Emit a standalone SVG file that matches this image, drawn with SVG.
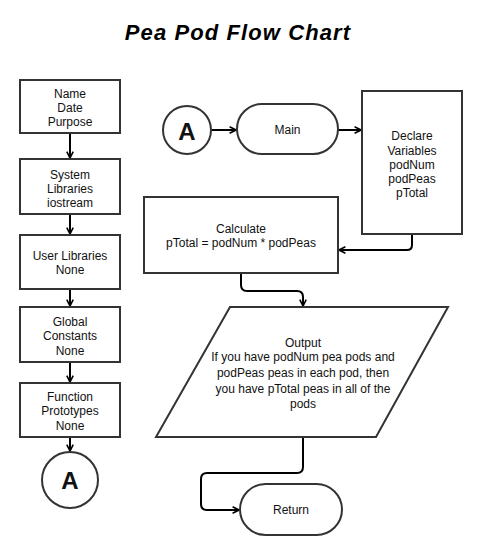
<svg xmlns="http://www.w3.org/2000/svg" width="488" height="554" viewBox="0 0 488 554">
<style>
.n{fill:#fff;stroke:#333;stroke-width:2}
.t{font-family:"Liberation Sans",Arial,sans-serif;font-size:12px;fill:#111;text-anchor:middle}
.big{font-family:"Liberation Sans",Arial,sans-serif;font-size:24px;font-weight:bold;fill:#111;text-anchor:middle}
.c{fill:none;stroke:#000;stroke-width:2;stroke-linejoin:round}
</style>
<defs>
<marker id="ah" viewBox="0 0 10 10" refX="9" refY="5" markerWidth="8" markerHeight="8" markerUnits="userSpaceOnUse" orient="auto">
<path d="M1,1 L9,5 L1,9" fill="none" stroke="#000" stroke-width="2" stroke-linejoin="miter"/>
</marker>
</defs>
<rect width="488" height="554" fill="#fff"/>
<text x="238" y="40" font-family="Liberation Sans,Arial,sans-serif" font-size="22" font-weight="bold" font-style="italic" letter-spacing="1.1" text-anchor="middle" fill="#000">Pea Pod Flow Chart</text>

<g id="connectors">
<path class="c" d="M70,133 V158" marker-end="url(#ah)"/>
<path class="c" d="M70,214 V234" marker-end="url(#ah)"/>
<path class="c" d="M70,289 V306" marker-end="url(#ah)"/>
<path class="c" d="M70,362 V382" marker-end="url(#ah)"/>
<path class="c" d="M70,437 V451" marker-end="url(#ah)"/>
<path class="c" d="M211,130 H236" marker-end="url(#ah)"/>
<path class="c" d="M338,130 H361" marker-end="url(#ah)"/>
<path class="c" d="M412,234 V245 Q412,250 407,250 H339" marker-end="url(#ah)"/>
<path class="c" d="M241,273 V285 Q241,291 247,291 H297 Q303,291 303,297 V306" marker-end="url(#ah)"/>
<path class="c" d="M303,437 V467 Q303,473 297,473 H207 Q201,473 201,479 V504 Q201,510 207,510 H239" marker-end="url(#ah)"/>
</g>

<g id="n-name"><rect class="n" x="20" y="80" width="100" height="53"/>
<text class="t" x="70" y="97.5">Name</text><text class="t" x="70" y="112">Date</text><text class="t" x="70" y="126">Purpose</text></g>
<g id="n-syslib"><rect class="n" x="20" y="159" width="100" height="55"/>
<text class="t" x="70" y="178.5">System</text><text class="t" x="70" y="192.5">Libraries</text><text class="t" x="70" y="206.5">iostream</text></g>
<g id="n-userlib"><rect class="n" x="20" y="235" width="100" height="54"/>
<text class="t" x="70" y="259.5">User Libraries</text><text class="t" x="70" y="273.5">None</text></g>
<g id="n-global"><rect class="n" x="20" y="307" width="100" height="55"/>
<text class="t" x="70" y="326">Global</text><text class="t" x="70" y="340">Constants</text><text class="t" x="70" y="354.5">None</text></g>
<g id="n-proto"><rect class="n" x="20" y="383" width="100" height="54"/>
<text class="t" x="70" y="401">Function</text><text class="t" x="70" y="415">Prototypes</text><text class="t" x="70" y="429.5">None</text></g>
<g id="n-a1"><circle class="n" cx="70" cy="480" r="28"/>
<text class="big" x="70" y="489">A</text></g>

<g id="n-a2"><circle class="n" cx="187" cy="130" r="24"/>
<text class="big" x="187" y="139.5">A</text></g>
<g id="n-main"><rect class="n" x="237" y="104" width="101" height="50" rx="25"/>
<text class="t" x="287.5" y="134">Main</text></g>
<g id="n-declare"><rect class="n" x="362" y="91" width="100" height="143"/>
<text class="t" x="412" y="140">Declare</text><text class="t" x="412" y="154.5">Variables</text><text class="t" x="412" y="168.5">podNum</text><text class="t" x="412" y="182.5">podPeas</text><text class="t" x="412" y="196.5">pTotal</text></g>
<g id="n-calc"><rect class="n" x="144" y="197" width="194" height="76"/>
<text class="t" x="241" y="232.5">Calculate</text><text class="t" x="241" y="246.5">pTotal = podNum * podPeas</text></g>
<g id="n-output"><polygon class="n" points="230,307 448,307 376,437 156,437"/>
<text class="t" x="303" y="347">Output</text>
<text class="t" x="303" y="361">If you have podNum pea pods and</text>
<text class="t" x="303" y="376.5">podPeas peas in each pod, then</text>
<text class="t" x="303" y="392.5">you have pTotal peas in all of the</text>
<text class="t" x="303" y="408">pods</text></g>
<g id="n-return"><rect class="n" x="240" y="484" width="102" height="51" rx="25.5"/>
<text class="t" x="291" y="514">Return</text></g>
</svg>
